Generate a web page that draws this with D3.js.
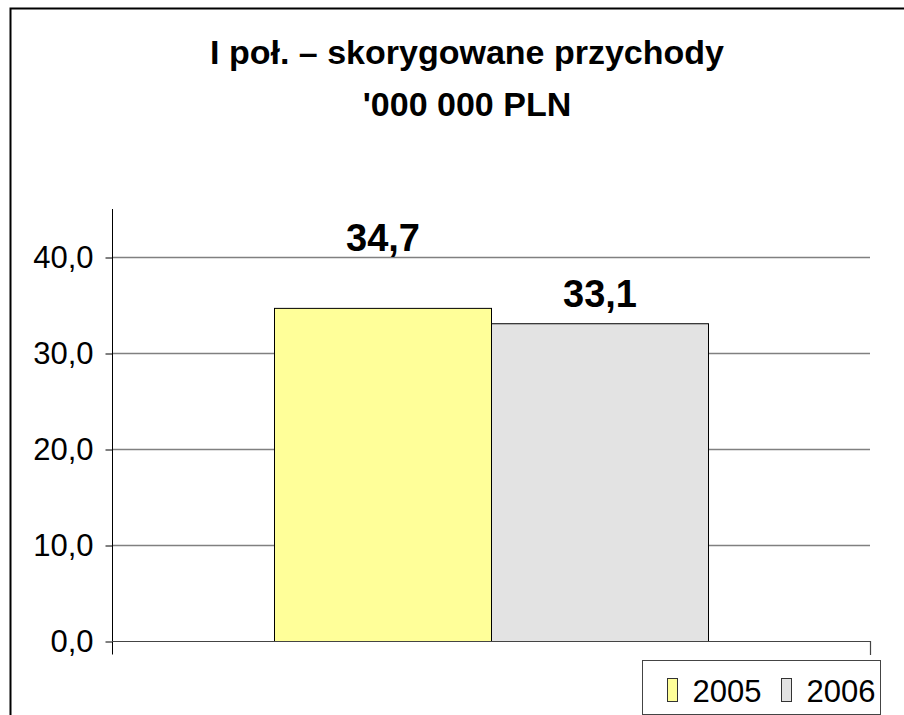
<!DOCTYPE html>
<html>
<head>
<meta charset="utf-8">
<script src="https://cdn.jsdelivr.net/npm/d3@7"></script>
<style>
  body { margin: 0; background: #fff; }
  text { font-family: Arial, "Liberation Sans", sans-serif; }
</style>
</head>
<body>
<div id="chart"></div>
<script>
// data
var titleLines = ["I poł. – skorygowane przychody", "'000 000 PLN"];
var years = ["2005", "2006"];
var values = [34.7, 33.1];
var colors = ["#ffff99", "#e3e3e3"];
var yTicks = [0, 10, 20, 30, 40];

var W = 904, H = 715;
var svg = d3.select("#chart").append("svg")
  .attr("width", W).attr("height", H);

var fmt = d => d3.format(".1f")(d).replace(".", ",");

// outer frame (runs off the right / bottom edges)
svg.append("rect")
  .attr("x", 10.5).attr("y", 8.5)
  .attr("width", 1000).attr("height", 1000)
  .attr("fill", "white").attr("stroke", "black").attr("stroke-width", 2);

// title
svg.append("g").selectAll("text")
  .data(titleLines).enter().append("text")
  .attr("x", 467)
  .attr("y", (d, i) => 64 + i * 52)
  .attr("text-anchor", "middle")
  .attr("font-size", "34px")
  .attr("font-weight", "bold")
  .text(d => d);

// plot area
var left = 112, right = 870, bottom = 641;
var y = d3.scaleLinear().domain([0, 45]).range([bottom, bottom - 45 * 9.6]);
var x = d3.scaleBand().domain(years).range([274, 708]).padding(0);

// gridlines
svg.append("g").selectAll("line")
  .data(yTicks.slice(1)).enter().append("line")
  .attr("x1", left).attr("x2", right)
  .attr("y1", d => Math.round(y(d)) + 0.5).attr("y2", d => Math.round(y(d)) + 0.5)
  .attr("stroke", "#808080").attr("stroke-width", 1.3);

// bars
svg.append("g").selectAll("rect")
  .data(values).enter().append("rect")
  .attr("x", (d, i) => x(years[i]) + 0.5)
  .attr("y", d => y(d) + 0.5)
  .attr("width", x.bandwidth())
  .attr("height", d => bottom - y(d))
  .attr("fill", (d, i) => colors[i])
  .attr("stroke", "black").attr("stroke-width", 1);

// value labels (first one sits above the 40 gridline in the original)
var labelDy = [-57, -16];
svg.append("g").selectAll("text")
  .data(values).enter().append("text")
  .attr("x", (d, i) => x(years[i]) + x.bandwidth() / 2 + 0.5)
  .attr("y", (d, i) => y(d) + labelDy[i])
  .attr("text-anchor", "middle")
  .attr("font-size", "38px")
  .attr("font-weight", "bold")
  .text(fmt);

// y axis
var yAxis = svg.append("g")
  .attr("transform", "translate(" + (left + 0.5) + ",0.5)")
  .call(d3.axisLeft(y).tickValues(yTicks).tickSize(7).tickPadding(12)
    .tickFormat(fmt));
yAxis.select(".domain").attr("d", "M0," + (y(45) - 0.5) + "V" + (bottom + 13));
yAxis.selectAll("path, line").attr("stroke", "black");
yAxis.selectAll("text").attr("font-size", "31px").attr("fill", "black")
  .attr("dy", null).attr("y", 10);

// x axis
svg.append("path")
  .attr("d", "M" + left + "," + (bottom + 0.5) + "H" + (right + 0.5) + "V" + (bottom + 14))
  .attr("fill", "none").attr("stroke", "#444").attr("stroke-width", 1.2);

// legend
var lg = svg.append("g").attr("transform", "translate(642.5,660.5)");
lg.append("rect").attr("width", 238).attr("height", 54)
  .attr("fill", "white").attr("stroke", "#444");
var items = lg.selectAll("g.item").data(years).enter().append("g")
  .attr("transform", (d, i) => "translate(" + (25 + i * 114) + ",18)");
items.append("rect").attr("width", 10).attr("height", 23)
  .attr("fill", (d, i) => colors[i]).attr("stroke", "#333");
items.append("text").attr("x", 25).attr("y", 23)
  .attr("font-size", "31px").text(d => d);
</script>
</body>
</html>
